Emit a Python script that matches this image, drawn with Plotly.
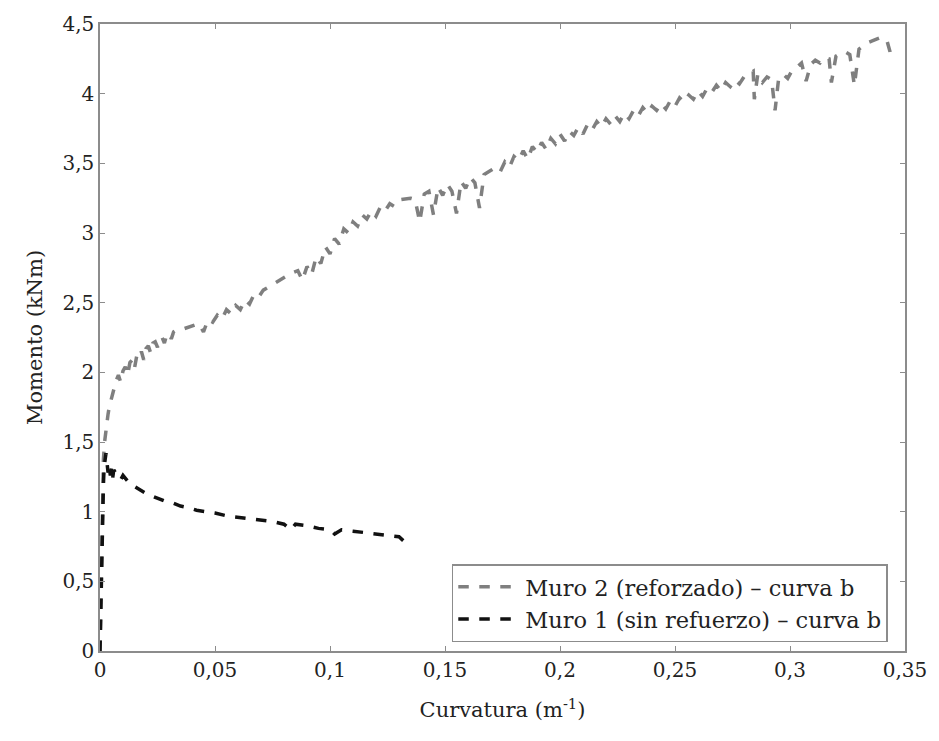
import plotly.graph_objects as go

# Muro 2 (reforzado) - curva b: curvature (1/m) and moment (kNm)
muro2_curv = [
    0.0000, 0.0005, 0.0010, 0.0015, 0.0020, 0.0025, 0.0030, 0.0035, 0.0040, 0.0050,
    0.0060, 0.0065, 0.0070, 0.0080, 0.0090, 0.0100, 0.0110, 0.0120, 0.0130, 0.0140,
    0.0150, 0.0160, 0.0170, 0.0180, 0.0190, 0.0200, 0.0210, 0.0220, 0.0230, 0.0240,
    0.0250, 0.0260, 0.0270, 0.0280, 0.0290, 0.0300, 0.0310, 0.0320, 0.0330, 0.0360,
    0.0400, 0.0430, 0.0450, 0.0470, 0.0490, 0.0510, 0.0530, 0.0550, 0.0570, 0.0590,
    0.0610, 0.0630, 0.0650, 0.0670, 0.0690, 0.0710, 0.0740, 0.0770, 0.0800, 0.0830,
    0.0860, 0.0880, 0.0900, 0.0920, 0.0940, 0.0960, 0.0980, 0.1000, 0.1020, 0.1040,
    0.1060, 0.1080, 0.1100, 0.1120, 0.1140, 0.1160, 0.1180, 0.1200, 0.1220, 0.1240,
    0.1260, 0.1280, 0.1310, 0.1350, 0.1370, 0.1390, 0.1410, 0.1430, 0.1450, 0.1470,
    0.1490, 0.1510, 0.1530, 0.1550, 0.1570, 0.1590, 0.1610, 0.1630, 0.1650, 0.1670,
    0.1700, 0.1720, 0.1740, 0.1760, 0.1780, 0.1800, 0.1820, 0.1840, 0.1860, 0.1880,
    0.1900, 0.1920, 0.1940, 0.1960, 0.1980, 0.2000, 0.2020, 0.2040, 0.2060, 0.2080,
    0.2100, 0.2120, 0.2140, 0.2160, 0.2180, 0.2200, 0.2220, 0.2240, 0.2260, 0.2280,
    0.2300, 0.2320, 0.2340, 0.2360, 0.2380, 0.2400, 0.2420, 0.2440, 0.2460, 0.2480,
    0.2500, 0.2520, 0.2540, 0.2560, 0.2580, 0.2600, 0.2620, 0.2640, 0.2660, 0.2680,
    0.2700, 0.2720, 0.2740, 0.2760, 0.2780, 0.2800, 0.2820, 0.2840, 0.2845, 0.2860,
    0.2880, 0.2900, 0.2920, 0.2935, 0.2950, 0.2970, 0.2990, 0.3010, 0.3030, 0.3050,
    0.3070, 0.3090, 0.3110, 0.3130, 0.3150, 0.3170, 0.3180, 0.3200, 0.3220, 0.3240,
    0.3260, 0.3280, 0.3300, 0.3330, 0.3360, 0.3390, 0.3420, 0.3435, 0.3440,
]
muro2_mom = [
    0.00, 0.60, 1.10, 1.38, 1.50, 1.58, 1.64, 1.70, 1.75, 1.82,
    1.88, 1.91, 1.94, 1.98, 1.93, 2.01, 2.04, 1.98, 2.07, 2.09,
    2.03, 2.12, 2.10, 2.15, 2.09, 2.17, 2.19, 2.14, 2.21, 2.22,
    2.18, 2.24, 2.25, 2.21, 2.27, 2.28, 2.24, 2.29, 2.30, 2.31,
    2.33, 2.35, 2.29, 2.38, 2.36, 2.41, 2.38, 2.45, 2.42, 2.48,
    2.45, 2.52, 2.49, 2.56, 2.54, 2.59, 2.62, 2.65, 2.68, 2.71,
    2.73, 2.66, 2.76, 2.70, 2.83, 2.78, 2.90, 2.85, 2.96, 2.92,
    3.03, 3.00, 3.08, 3.05, 3.13, 3.10, 3.16, 3.12, 3.19, 3.16,
    3.21, 3.19, 3.24, 3.25, 3.24, 3.08, 3.28, 3.30, 3.13, 3.33,
    3.27, 3.35, 3.30, 3.14, 3.37, 3.32, 3.40, 3.36, 3.18, 3.42,
    3.45, 3.47, 3.44, 3.51, 3.47, 3.55, 3.52, 3.59, 3.53, 3.62,
    3.58, 3.65, 3.60, 3.68, 3.64, 3.71, 3.66, 3.73, 3.70, 3.76,
    3.71, 3.78, 3.74, 3.80, 3.76, 3.82, 3.78, 3.84, 3.80, 3.86,
    3.82, 3.88, 3.84, 3.90, 3.86, 3.91, 3.88, 3.93, 3.89, 3.95,
    3.91, 3.97, 3.94, 3.99, 3.96, 4.02, 3.98, 4.04, 4.01, 4.06,
    4.02, 4.08, 4.05, 4.10, 4.07, 4.12, 4.14, 4.16, 3.96, 4.14,
    4.08, 4.12, 4.10, 3.88, 4.10, 4.14, 4.11, 4.17, 4.19, 4.22,
    4.09, 4.21, 4.24, 4.22, 4.26, 4.25, 4.08, 4.27, 4.29, 4.30,
    4.28, 4.06, 4.32, 4.36, 4.38, 4.40, 4.39, 4.30, 4.24,
]

# Muro 1 (sin refuerzo) - curva b
muro1_curv = [
    0.0000, 0.0003, 0.0006, 0.0009, 0.0012, 0.0015, 0.0018, 0.0022, 0.0026, 0.0030,
    0.0035, 0.0040, 0.0045, 0.0050, 0.0055, 0.0060, 0.0070, 0.0080, 0.0090, 0.0100,
    0.0120, 0.0140, 0.0160, 0.0180, 0.0200, 0.0230, 0.0260, 0.0290, 0.0320, 0.0350,
    0.0380, 0.0420, 0.0460, 0.0500, 0.0550, 0.0600, 0.0650, 0.0700, 0.0750, 0.0800,
    0.0830, 0.0850, 0.0900, 0.0950, 0.1000, 0.1020, 0.1050, 0.1100, 0.1150, 0.1200,
    0.1250, 0.1300, 0.1320, 0.1330, 0.1335,
]
muro1_mom = [
    0.00, 0.30, 0.60, 0.85, 1.05, 1.20, 1.32, 1.40, 1.42, 1.36,
    1.28, 1.33, 1.26, 1.31, 1.24, 1.30, 1.27, 1.26, 1.23, 1.26,
    1.22, 1.19, 1.17, 1.15, 1.13, 1.11, 1.09, 1.07, 1.06, 1.04,
    1.03, 1.01, 1.00, 0.99, 0.97, 0.96, 0.95, 0.94, 0.93, 0.91,
    0.87, 0.91, 0.90, 0.88, 0.87, 0.84, 0.87, 0.86, 0.85, 0.84,
    0.83, 0.82, 0.79, 0.82, 0.80,
]

assert len(muro2_curv) == len(muro2_mom)
assert len(muro1_curv) == len(muro1_mom)

x_ticks = [0, 0.05, 0.1, 0.15, 0.2, 0.25, 0.3, 0.35]
x_tick_text = ["0", "0,05", "0,1", "0,15", "0,2", "0,25", "0,3", "0,35"]
y_ticks = [0, 0.5, 1, 1.5, 2, 2.5, 3, 3.5, 4, 4.5]
y_tick_text = ["0", "0,5", "1", "1,5", "2", "2,5", "3", "3,5", "4", "4,5"]

FONT = "DejaVu Serif"
AXIS_COLOR = "#8c8c8c"
TEXT_COLOR = "#222222"

fig = go.Figure()
fig.add_trace(go.Scatter(
    x=muro2_curv, y=muro2_mom, mode="lines",
    name="Muro 2 (reforzado) – curva b",
    line=dict(color="#7f7f7f", width=3.5, dash="dash"),
))
fig.add_trace(go.Scatter(
    x=muro1_curv, y=muro1_mom, mode="lines",
    name="Muro 1 (sin refuerzo) – curva b",
    line=dict(color="#111111", width=3.5, dash="dash"),
))

axis_common = dict(
    showgrid=False, zeroline=False, showline=True, linecolor=AXIS_COLOR,
    linewidth=1.5, mirror="ticks", ticks="inside", ticklen=5,
    tickcolor=AXIS_COLOR, tickfont=dict(family=FONT, size=20, color=TEXT_COLOR),
)

fig.update_xaxes(
    range=[0, 0.35], tickvals=x_ticks, ticktext=x_tick_text,
    title=dict(text="Curvatura (m<sup>-1</sup>)",
               font=dict(family=FONT, size=21, color=TEXT_COLOR), standoff=22),
    **axis_common,
)
fig.update_yaxes(
    range=[0, 4.5], tickvals=y_ticks, ticktext=y_tick_text,
    title=dict(text="Momento (kNm)",
               font=dict(family=FONT, size=21, color=TEXT_COLOR), standoff=14),
    **axis_common,
)

fig.update_layout(
    width=939, height=741,
    margin=dict(l=100, r=32, t=17, b=90),
    paper_bgcolor="white", plot_bgcolor="white",
    showlegend=True,
    legend=dict(
        x=0.437, y=0.014, xanchor="left", yanchor="bottom",
        bgcolor="white", bordercolor=AXIS_COLOR, borderwidth=1.5,
        font=dict(family=FONT, size=22.5, color=TEXT_COLOR),
        tracegroupgap=0, itemwidth=62,
    ),
)

fig.write_html("out.html")
